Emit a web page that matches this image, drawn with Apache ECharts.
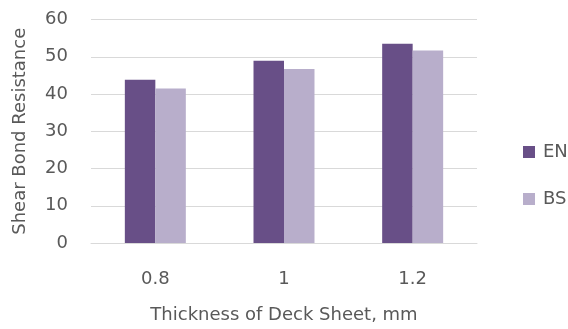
<!DOCTYPE html>
<html>
<head>
<meta charset="utf-8">
<script src="https://cdn.jsdelivr.net/npm/echarts@6/dist/echarts.min.js"></script>
<style>
  html, body { margin: 0; padding: 0; background: #fff; }
  #chart { width: 568px; height: 329px; }
</style>
</head>
<body>
<div id="chart"></div>
<script>
// Deck sheet thickness (mm) and shear bond resistance per design code
const thickness = ['0.8', '1', '1.2'];
const seriesNames = ['EN', 'BS'];
const enValues = [43.8, 48.9, 53.5];
const bsValues = [41.5, 46.7, 51.7];
const yTicks = { min: 0, max: 60, step: 10 };

const textColor = '#595959';
const fontFamily = '"DejaVu Sans", sans-serif';
const fontSize = 18;

const chart = echarts.init(document.getElementById('chart'), null, { renderer: 'canvas' });
chart.setOption({
  animation: false,
  textStyle: { fontFamily: fontFamily, color: textColor },
  grid: { left: 91, right: 91, top: 19.5, bottom: 84 },
  legend: {
    orient: 'vertical',
    left: 523,
    top: 143,
    padding: 0,
    itemWidth: 12,
    itemHeight: 12,
    itemGap: 29,
    icon: 'rect',
    textStyle: { fontFamily: fontFamily, fontSize: fontSize, color: textColor, padding: [0, 0, 0, 3] },
    data: seriesNames
  },
  xAxis: {
    type: 'category',
    data: thickness,
    name: 'Thickness of Deck Sheet, mm',
    nameLocation: 'middle',
    nameGap: 63,
    nameTextStyle: { fontSize: fontSize, color: textColor, fontFamily: fontFamily },
    axisTick: { show: false },
    axisLine: { lineStyle: { color: '#D9D9D9', width: 1 } },
    axisLabel: { fontSize: fontSize, color: textColor, margin: 27 }
  },
  yAxis: {
    type: 'value',
    min: yTicks.min,
    max: yTicks.max,
    interval: yTicks.step,
    name: 'Shear Bond Resistance',
    nameLocation: 'middle',
    nameGap: 62,
    nameTextStyle: { fontSize: fontSize, color: textColor, fontFamily: fontFamily },
    axisLine: { show: false },
    axisTick: { show: false },
    axisLabel: { fontSize: fontSize, color: textColor, margin: 23 },
    splitLine: { lineStyle: { color: '#D9D9D9', width: 1 } }
  },
  series: [
    {
      name: seriesNames[0],
      type: 'bar',
      data: enValues,
      barWidth: '23.7%',
      barGap: '0%',
      itemStyle: { color: '#684F87' }
    },
    {
      name: seriesNames[1],
      type: 'bar',
      data: bsValues,
      barWidth: '23.7%',
      barGap: '0%',
      itemStyle: { color: '#B8AECB' }
    }
  ]
});
</script>
</body>
</html>
